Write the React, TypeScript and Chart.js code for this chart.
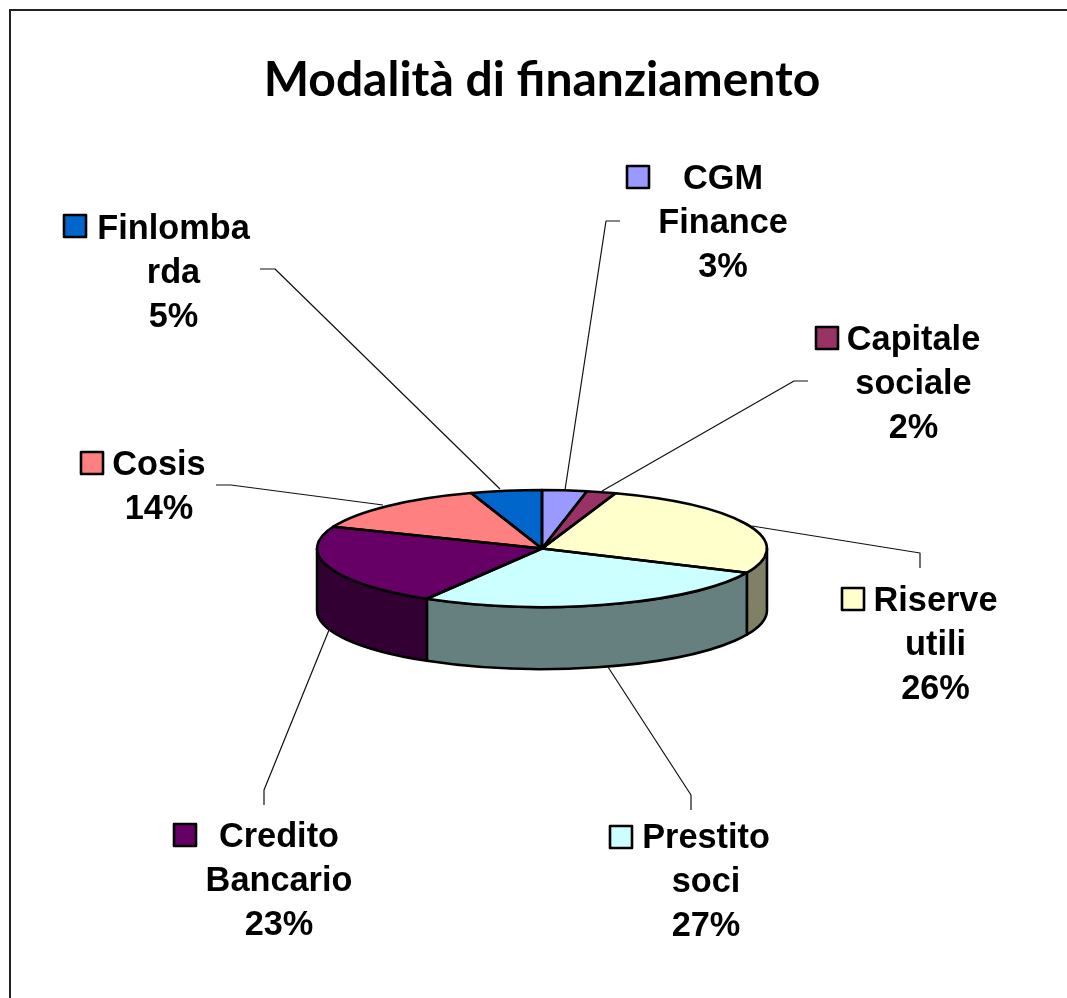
import React, { useEffect, useRef } from "react";
import { Chart, registerables } from "chart.js";

Chart.register(...registerables);

const chartTitle = "Modalità di finanziamento";
const categories = ["CGM Finance", "Capitale sociale", "Riserve utili", "Prestito soci", "Credito Bancario", "Cosis", "Finlombarda"];
const labelLines = [["CGM", "Finance"], ["Capitale", "sociale"], ["Riserve", "utili"], ["Prestito", "soci"], ["Credito", "Bancario"], ["Cosis"], ["Finlomba", "rda"]];
const values = [3.2, 2.1, 26.48, 26.77, 22.55, 13.8, 5.1];
const topColors = ["#9999FF", "#993366", "#FFFFCC", "#CCFFFF", "#660066", "#FF8080", "#0066CC"];
const sideColors = ["#4D4D80", "#4D1A33", "#808066", "#668080", "#330033", "#804040", "#003366"];

// Layout of the label blocks: text centre x, first line y, legend-key left / top.
const labelLayout = [
  { cx: 723, y: 180, kx: 627, ky: 166 },
  { cx: 913.5, y: 341, kx: 816, ky: 327 },
  { cx: 935.5, y: 602, kx: 842, ky: 588 },
  { cx: 706, y: 838.5, kx: 610, ky: 826 },
  { cx: 279, y: 837.5, kx: 174, ky: 824 },
  { cx: 159, y: 466, kx: 81, ky: 452 },
  { cx: 173.5, y: 230, kx: 64, ky: 215 },
];
const leaderLines = [
  [[565, 490], [606, 221], [620, 221]],
  [[602, 491], [794, 381], [808, 381]],
  [[752, 526], [920, 553], [920, 568]],
  [[608, 667], [691, 795], [691, 810]],
  [[329, 630], [264, 790], [264, 805]],
  [[383, 505], [231, 485], [216, 485]],
  [[500, 489], [275, 269], [260, 269]],
];

const SQUASH = 0.26;
const DEPTH = 62;
const LINE = 2.6;
const LABEL_FONT = 'bold 34.3px "Liberation Sans"';
const LINE_HEIGHT = 44;

const pie3d = {
  id: "pie3d",
  beforeDraw(chart: any) {
    const { ctx } = chart;
    ctx.save();
    ctx.strokeStyle = "#222";
    ctx.lineWidth = 2;
    ctx.beginPath();
    ctx.moveTo(10, 998);
    ctx.lineTo(10, 10);
    ctx.lineTo(1067, 10);
    ctx.stroke();
    ctx.restore();
  },
  beforeDatasetsDraw(chart: any) {
    const { ctx } = chart;
    const arcs = chart.getDatasetMeta(0).data;
    ctx.save();
    ctx.strokeStyle = "#000";
    ctx.lineWidth = LINE;
    ctx.lineJoin = "round";
    arcs.forEach((arc: any, i: number) => {
      const p = arc.getProps(["x", "y", "startAngle", "endAngle", "outerRadius"], true);
      const a0 = Math.max(p.startAngle, 0);
      const a1 = Math.min(p.endAngle, Math.PI);
      if (a1 <= a0) return;
      const r = p.outerRadius;
      const ry = r * SQUASH;
      ctx.beginPath();
      ctx.ellipse(p.x, p.y, r, ry, 0, a0, a1);
      ctx.lineTo(p.x + r * Math.cos(a1), p.y + ry * Math.sin(a1) + DEPTH);
      ctx.ellipse(p.x, p.y + DEPTH, r, ry, 0, a1, a0, true);
      ctx.closePath();
      ctx.fillStyle = sideColors[i];
      ctx.fill();
      ctx.stroke();
    });
    ctx.restore();
    const c = arcs[0].getProps(["x", "y"], true);
    ctx.save();
    ctx.translate(c.x, c.y);
    ctx.scale(1, SQUASH);
    ctx.translate(-c.x, -c.y);
  },
  afterDatasetsDraw(chart: any) {
    const { ctx } = chart;
    ctx.restore();
    const arcs = chart.getDatasetMeta(0).data;
    const total = values.reduce((a, b) => a + b, 0);
    ctx.save();
    ctx.strokeStyle = "#000";
    ctx.lineWidth = LINE;
    ctx.lineJoin = "round";
    arcs.forEach((arc: any) => {
      const p = arc.getProps(["x", "y", "startAngle", "endAngle", "outerRadius"], true);
      ctx.beginPath();
      ctx.moveTo(p.x, p.y);
      ctx.ellipse(p.x, p.y, p.outerRadius, p.outerRadius * SQUASH, 0, p.startAngle, p.endAngle);
      ctx.closePath();
      ctx.stroke();
    });
    ctx.strokeStyle = "#111";
    ctx.lineWidth = 1.2;
    leaderLines.forEach((pts) => {
      ctx.beginPath();
      pts.forEach(([x, y], k) => (k ? ctx.lineTo(x, y) : ctx.moveTo(x, y)));
      ctx.stroke();
    });
    ctx.font = LABEL_FONT;
    ctx.textAlign = "center";
    ctx.textBaseline = "middle";
    categories.forEach((_, i) => {
      const l = labelLayout[i];
      const lines = [...labelLines[i], Math.round((values[i] / total) * 100) + "%"];
      ctx.fillStyle = "#000";
      lines.forEach((t, k) => ctx.fillText(t, l.cx, l.y + k * LINE_HEIGHT));
      ctx.fillStyle = topColors[i];
      ctx.fillRect(l.kx, l.ky, 22, 22);
      ctx.strokeStyle = "#000";
      ctx.lineWidth = 2.6;
      ctx.strokeRect(l.kx, l.ky, 22, 22);
    });
    ctx.restore();
  },
};

export default function App() {
  const ref = useRef<HTMLCanvasElement>(null);
  useEffect(() => {
    const chart = new Chart(ref.current!, {
      type: "pie",
      data: {
        labels: categories,
        datasets: [{ data: values, backgroundColor: topColors, borderWidth: 0, clip: false } as any],
      },
      options: {
        animation: false,
        responsive: false,
        layout: { padding: { left: 17, right: 0, top: 0, bottom: 224.5 } },
        plugins: {
          legend: { display: false },
          tooltip: { enabled: false },
          title: {
            display: true,
            text: chartTitle,
            color: "#000",
            font: { family: "Lato", size: 48, weight: "bold", lineHeight: 1.2 },
            padding: { top: 52, bottom: 214 },
          },
        },
      },
      plugins: [pie3d],
    } as any);
    return () => chart.destroy();
  }, []);
  return (
    <canvas
      ref={ref}
      width={1067}
      height={998}
      style={{ position: "absolute", left: 0, top: 0, width: 1067, height: 998, display: "block" }}
    />
  );
}
